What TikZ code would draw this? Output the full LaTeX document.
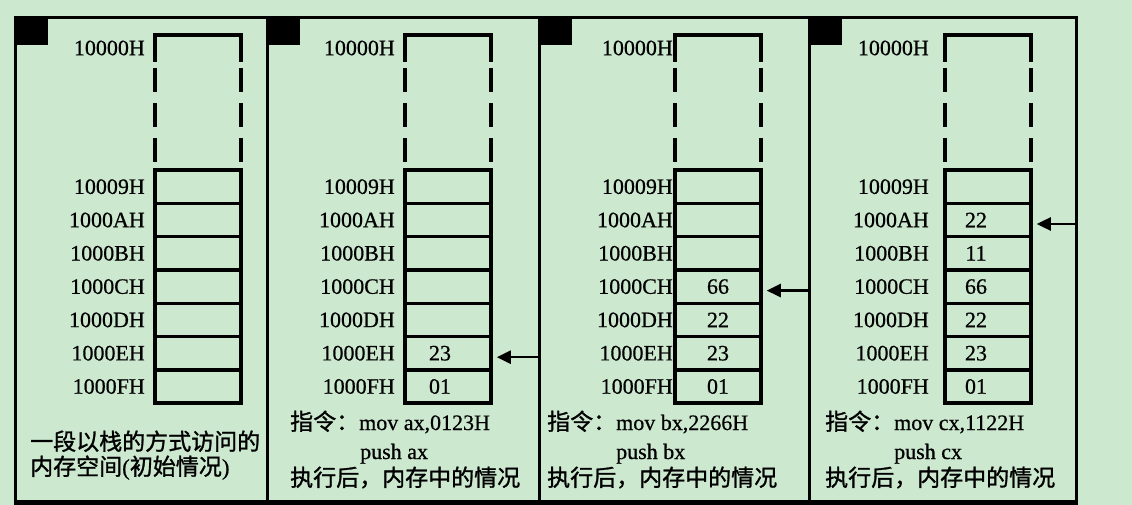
\documentclass[tikz,border=0pt]{standalone}
\usepackage{fontspec}
\setmainfont{Liberation Serif}[FakeBold=0.6]
\newfontfamily\cjk{Noto Sans CJK SC}[FakeBold=1.2]
\usetikzlibrary{arrows.meta}
\definecolor{memgreen}{RGB}{204,232,207}
\newcommand\zhtext[1]{{\cjk\fontsize{23}{26}\selectfont #1}}

\begin{document}
\begin{tikzpicture}[x=1pt, y=-1pt,
  panel/.style={draw, line width=2.8pt, inner sep=0pt, anchor=north west},
  corner/.style={fill=black, minimum width=34pt, minimum height=29pt, inner sep=0pt, anchor=north west},
  col/.style={line width=3.5pt},
  gapdash/.style={dash pattern=on 24pt off 11pt, dash phase=29pt},
  cell/.style={draw, line width=3.5pt, minimum width=86pt, minimum height=33.3pt, inner sep=0pt},
  addr/.style={anchor=east, inner sep=0pt, font=\fontsize{22}{24}\selectfont},
  val/.style={inner sep=0pt, font=\fontsize{22}{24}\selectfont},
  note/.style={anchor=base west, inner sep=0pt, font=\fontsize{22}{24}\selectfont},
  ptr/.style={line width=2.5pt, -{Triangle[length=14pt, width=13pt]}, shorten >=4pt}]
  \useasboundingbox (0,0) rectangle (1132,505);
  \fill[memgreen] (0,0) rectangle (1132,505);

  % panels, memory columns and addresses
  \foreach \p/\xl/\xr/\xc/\g in {1/14/266/155/10, 2/266/538/405/10, 3/538/808/675/2, 4/808/1075/945/16} {
    \node[panel, minimum width={(\xr-\xl)*1pt}, minimum height=484pt] (p\p) at (\xl,16) {};
    \node[corner] (k\p) at (\xl,16) {};
    \draw[col] (\xc,62) -- (\xc,35) -- (\xc+86,35) -- (\xc+86,62);
    \draw[col, gapdash] (\xc,62) -- (\xc,170);
    \draw[col, gapdash] (\xc+86,62) -- (\xc+86,170);
    \node[addr] (t\p) at (\xc-\g,48) {10000H};
    \foreach \a [count=\r from 0] in {10009H,1000AH,1000BH,1000CH,1000DH,1000EH,1000FH} {
      \node[cell] (c\p-\r) at (\xc+43,186.7+33.3*\r) {};
      \node[addr] (l\p-\r) at (\xc-\g,186.7+33.3*\r) {\a};
    }
  }
  \draw[line width=5pt] (p1.south west) -- (p4.south east);

  % stack contents
  \node[val] (v2-5) at ([xshift=-8pt]c2-5) {23};
  \node[val] (v2-6) at ([xshift=-8pt]c2-6) {01};
  \node[val] (v3-3) at (c3-3) {66};
  \node[val] (v3-4) at (c3-4) {22};
  \node[val] (v3-5) at (c3-5) {23};
  \node[val] (v3-6) at (c3-6) {01};
  \node[val] (v4-1) at ([xshift=-12pt]c4-1) {22};
  \node[val] (v4-2) at ([xshift=-12pt]c4-2) {11};
  \node[val] (v4-3) at ([xshift=-12pt]c4-3) {66};
  \node[val] (v4-4) at ([xshift=-12pt]c4-4) {22};
  \node[val] (v4-5) at ([xshift=-12pt]c4-5) {23};
  \node[val] (v4-6) at ([xshift=-12pt]c4-6) {01};

  % stack top pointers
  \coordinate (s2) at (p2.east |- c2-5);
  \coordinate (s3) at (p3.east |- c3-3);
  \coordinate (s4) at (p4.east |- c4-1);
  \draw[ptr] ([yshift=-4pt]s2) -- ([yshift=-4pt]c2-5.east);
  \draw[ptr] ([yshift=-4pt]s3) -- ([yshift=-4pt]c3-3.east);
  \draw[ptr] ([yshift=-4pt]s4) -- ([yshift=-4pt]c4-1.east);

  % captions
  \node[note] (n1a) at (30,450) {\zhtext{一段以栈的方式访问的}};
  \node[note] (n1b) at (30,475) {\zhtext{内存空间{\rmfamily(}初始情况{\rmfamily)}}};
  \node[note] (n2a) at (290,430) {\zhtext{指令：}mov ax,0123H};
  \node[note] (n2b) at (360,459) {push ax};
  \node[note] (n2c) at (290,486) {\zhtext{执行后，内存中的情况}};
  \node[note] (n3a) at (547,430) {\zhtext{指令：}mov bx,2266H};
  \node[note] (n3b) at (616,459) {push bx};
  \node[note] (n3c) at (547,486) {\zhtext{执行后，内存中的情况}};
  \node[note] (n4a) at (825,430) {\zhtext{指令：}mov cx,1122H};
  \node[note] (n4b) at (894,459) {push cx};
  \node[note] (n4c) at (825,486) {\zhtext{执行后，内存中的情况}};
\end{tikzpicture}
\end{document}
